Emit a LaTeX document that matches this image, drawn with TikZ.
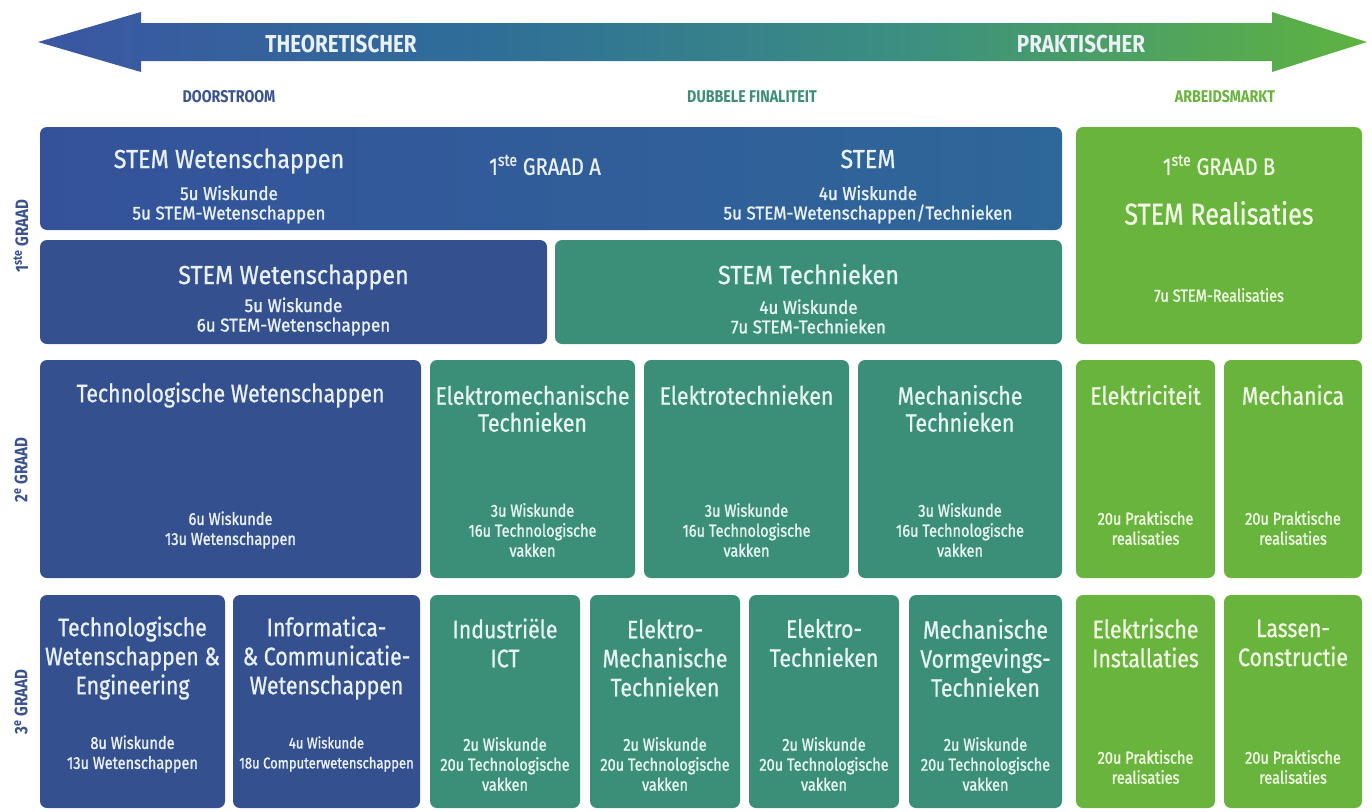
\documentclass[tikz,border=0pt]{standalone}
\usepackage{fontspec}
\setmainfont{Fira Sans}[FakeStretch=0.84]
\newfontfamily\medfont{Fira Sans}[FakeStretch=0.84, FakeBold=0.8]
\newfontfamily\semifont{Fira Sans}[FakeStretch=0.84, FakeBold=1.3]
\newfontfamily\medwide{Fira Sans}[FakeStretch=0.9, FakeBold=0.8]
\newfontfamily\semiwide{Fira Sans}[FakeStretch=0.92, FakeBold=1.3]
\definecolor{cblue}{HTML}{35508E}
\definecolor{cblueA}{HTML}{34529A}
\definecolor{cblueB}{HTML}{2E6799}
\definecolor{cteal}{HTML}{3B8F79}
\definecolor{cgreen}{HTML}{69B43C}
\definecolor{ctext}{HTML}{EAF1F6}
\definecolor{ctextt}{HTML}{E6F5EF}
\definecolor{ctextg}{HTML}{F1F9E6}
\definecolor{lblue}{HTML}{3A5290}
\definecolor{lteal}{HTML}{3D8F74}
\definecolor{lgreen}{HTML}{69B43C}
\definecolor{aA}{HTML}{3B56A2}
\definecolor{aB}{HTML}{2F6E98}
\definecolor{aC}{HTML}{3C9080}
\definecolor{aD}{HTML}{5FB340}
\pgfdeclarehorizontalshading{arrowshade}{100bp}{color(0bp)=(aA); color(25bp)=(aA); color(42bp)=(aB); color(58bp)=(aC); color(75bp)=(aD); color(100bp)=(aD)}
\tikzset{
  box/.style={rounded corners=7pt, inner sep=0pt, draw=none},
  ttl/.style={font=\medfont\fontsize{25.3}{27}\selectfont, text=ctext, align=center, inner sep=0pt},
  ttlc/.style={font=\medfont\fontsize{25.3}{29}\selectfont, text=ctext, align=center, inner sep=0pt},
  topttl/.style={font=\medwide\fontsize{26}{28}\selectfont, text=ctext, align=center, inner sep=0pt, anchor=base},
  bigttl/.style={font=\medfont\fontsize{30}{32}\selectfont, text=ctextg, align=center, inner sep=0pt},
  grd/.style={font=\medfont\fontsize{24}{26}\selectfont, text=ctext, align=center, inner sep=0pt},
  topsub/.style={font=\semiwide\fontsize{18.5}{19.5}\selectfont, text=ctext, align=center, inner sep=0pt},
  sub/.style={font=\semifont\fontsize{17.3}{20}\selectfont, text=ctext, align=center, inner sep=0pt},
  subs/.style={font=\semifont\fontsize{15.5}{20}\selectfont, text=ctext, align=center, inner sep=0pt},
  onteal/.style={text=ctextt},
  ongreen/.style={text=ctextg},
  hdr/.style={font=\bfseries\fontsize{17}{19}\selectfont, inner sep=0pt},
  alabel/.style={font=\bfseries\fontsize{24.5}{26}\selectfont, text=ctext, inner sep=0pt},
  side/.style={font=\bfseries\fontsize{18}{20}\selectfont, text=lblue, rotate=90, inner sep=0pt}
}
\begin{document}
\begin{tikzpicture}[x=1pt,y=-1pt]
\useasboundingbox[fill=white] (0,0) rectangle (1372,811);
% arrow
\path[shading=arrowshade] (38,42) -- (141,12) -- (141,23) -- (1272,23) -- (1272,12) -- (1367,42) -- (1272,72) -- (1272,61) -- (141,61) -- (141,72) -- cycle;
\node[alabel] (theo) at (341,44) {THEORETISCHER};
\node[alabel] (prak) at (1081,44) {PRAKTISCHER};
\node[hdr, text=lblue] (door) at (229,97) {DOORSTROOM};
\node[hdr, text=lteal] (dubb) at (752,97) {DUBBELE FINALITEIT};
\node[hdr, text=lgreen] (arb) at (1225,97) {ARBEIDSMARKT};
% side labels
\node[side] (g1) at (21,236) {1\textsuperscript{ste} GRAAD};
\node[side] (g2) at (21,470) {2\textsuperscript{e} GRAAD};
\node[side] (g3) at (21,702) {3\textsuperscript{e} GRAAD};
% row 1
\node[box, left color=cblueA, right color=cblueB, minimum width=1022pt, minimum height=103pt] (r1a) at (551,178.5) {};
\node[topttl] (r1a-t1) at (229,168) {STEM Wetenschappen};
\node[topsub] (r1a-s1) at (229,204.5) {5u Wiskunde\\5u STEM-Wetenschappen};
\node[grd] (r1a-g) at (545,165) {1\textsuperscript{ste} GRAAD A};
\node[topttl] (r1a-t2) at (868,168) {STEM};
\node[topsub] (r1a-s2) at (868,204.5) {4u Wiskunde\\5u STEM-Wetenschappen/Technieken};
\node[box, fill=cblue, minimum width=507pt, minimum height=104pt] (r1l) at (293.5,292) {};
\node[topttl] (r1l-t) at (293.5,284) {STEM Wetenschappen};
\node[topsub] (r1l-s) at (293.5,316.5) {5u Wiskunde\\6u STEM-Wetenschappen};
\node[box, fill=cteal, minimum width=507pt, minimum height=104pt] (r1r) at (808.5,292) {};
\node[topttl, onteal] (r1r-t) at (808.5,284) {STEM Technieken};
\node[topsub, onteal] (r1r-s) at (808.5,316.5) {4u Wiskunde\\7u STEM-Technieken};
\node[box, fill=cgreen, minimum width=286pt, minimum height=217pt] (r1b) at (1219,235.5) {};
\node[grd, ongreen] (r1b-g) at (1219,165) {1\textsuperscript{ste} GRAAD B};
\node[bigttl] (r1b-t) at (1219,213) {STEM Realisaties};
\node[sub, ongreen] (r1b-s) at (1219,295) {7u STEM-Realisaties};
% row 2
\node[box, fill=cblue, minimum width=381pt, minimum height=218pt] (tw) at (230.5,469) {};
\node[ttl] (tw-t) at (230.5,395) {Technologische Wetenschappen};
\node[sub] (tw-s) at (230.5,530) {6u Wiskunde\\13u Wetenschappen};
\node[box, fill=cteal, minimum width=205pt, minimum height=218pt] (em) at (532.5,469) {};
\node[ttl, onteal] (em-t) at (532.5,408.5) {Elektromechanische\\Technieken};
\node[sub, onteal] (em-s) at (532.5,530) {3u Wiskunde\\16u Technologische\\vakken};
\node[box, fill=cteal, minimum width=205pt, minimum height=218pt] (et) at (746.5,469) {};
\node[ttl, onteal] (et-t) at (746.5,395) {Elektrotechnieken};
\node[sub, onteal] (et-s) at (746.5,530) {3u Wiskunde\\16u Technologische\\vakken};
\node[box, fill=cteal, minimum width=204pt, minimum height=218pt] (mt) at (960,469) {};
\node[ttl, onteal] (mt-t) at (960,408.5) {Mechanische\\Technieken};
\node[sub, onteal] (mt-s) at (960,530) {3u Wiskunde\\16u Technologische\\vakken};
\node[box, fill=cgreen, minimum width=139pt, minimum height=218pt] (el) at (1145.5,469) {};
\node[ttl, ongreen] (el-t) at (1145.5,395) {Elektriciteit};
\node[sub, ongreen] (el-s) at (1145.5,528) {20u Praktische\\realisaties};
\node[box, fill=cgreen, minimum width=138pt, minimum height=218pt] (mc) at (1293,469) {};
\node[ttl, ongreen] (mc-t) at (1293,395) {Mechanica};
\node[sub, ongreen] (mc-s) at (1293,528) {20u Praktische\\realisaties};
% row 3
\node[box, fill=cblue, minimum width=185pt, minimum height=213pt] (twe) at (132.5,701.5) {};
\node[ttlc] (twe-t) at (132.5,658) {Technologische\\Wetenschappen \&\\Engineering};
\node[sub] (twe-s) at (132.5,754) {8u Wiskunde\\13u Wetenschappen};
\node[box, fill=cblue, minimum width=187pt, minimum height=213pt] (icw) at (326.5,701.5) {};
\node[ttlc] (icw-t) at (326.5,658) {Informatica-\\\& Communicatie-\\Wetenschappen};
\node[subs] (icw-s) at (326.5,754) {4u Wiskunde\\18u Computerwetenschappen};
\node[box, fill=cteal, minimum width=150pt, minimum height=213pt] (ict) at (505,701.5) {};
\node[ttlc, onteal] (ict-t) at (505,643) {Industriële\\ICT};
\node[sub, onteal] (ict-s) at (505,764) {2u Wiskunde\\20u Technologische\\vakken};
\node[box, fill=cteal, minimum width=150pt, minimum height=213pt] (emt) at (665,701.5) {};
\node[ttlc, onteal] (emt-t) at (665,658) {Elektro-\\Mechanische\\Technieken};
\node[sub, onteal] (emt-s) at (665,764) {2u Wiskunde\\20u Technologische\\vakken};
\node[box, fill=cteal, minimum width=150pt, minimum height=213pt] (ett) at (824,701.5) {};
\node[ttlc, onteal] (ett-t) at (824,643) {Elektro-\\Technieken};
\node[sub, onteal] (ett-s) at (824,764) {2u Wiskunde\\20u Technologische\\vakken};
\node[box, fill=cteal, minimum width=153pt, minimum height=213pt] (mvt) at (985.5,701.5) {};
\node[ttlc, onteal] (mvt-t) at (985.5,658) {Mechanische\\Vormgevings-\\Technieken};
\node[sub, onteal] (mvt-s) at (985.5,764) {2u Wiskunde\\20u Technologische\\vakken};
\node[box, fill=cgreen, minimum width=139pt, minimum height=213pt] (ei) at (1145.5,701.5) {};
\node[ttlc, ongreen] (ei-t) at (1145.5,643) {Elektrische\\Installaties};
\node[sub, ongreen] (ei-s) at (1145.5,767) {20u Praktische\\realisaties};
\node[box, fill=cgreen, minimum width=138pt, minimum height=213pt] (lc) at (1293,701.5) {};
\node[ttlc, ongreen] (lc-t) at (1293,643) {Lassen-\\Constructie};
\node[sub, ongreen] (lc-s) at (1293,767) {20u Praktische\\realisaties};
\end{tikzpicture}
\end{document}
